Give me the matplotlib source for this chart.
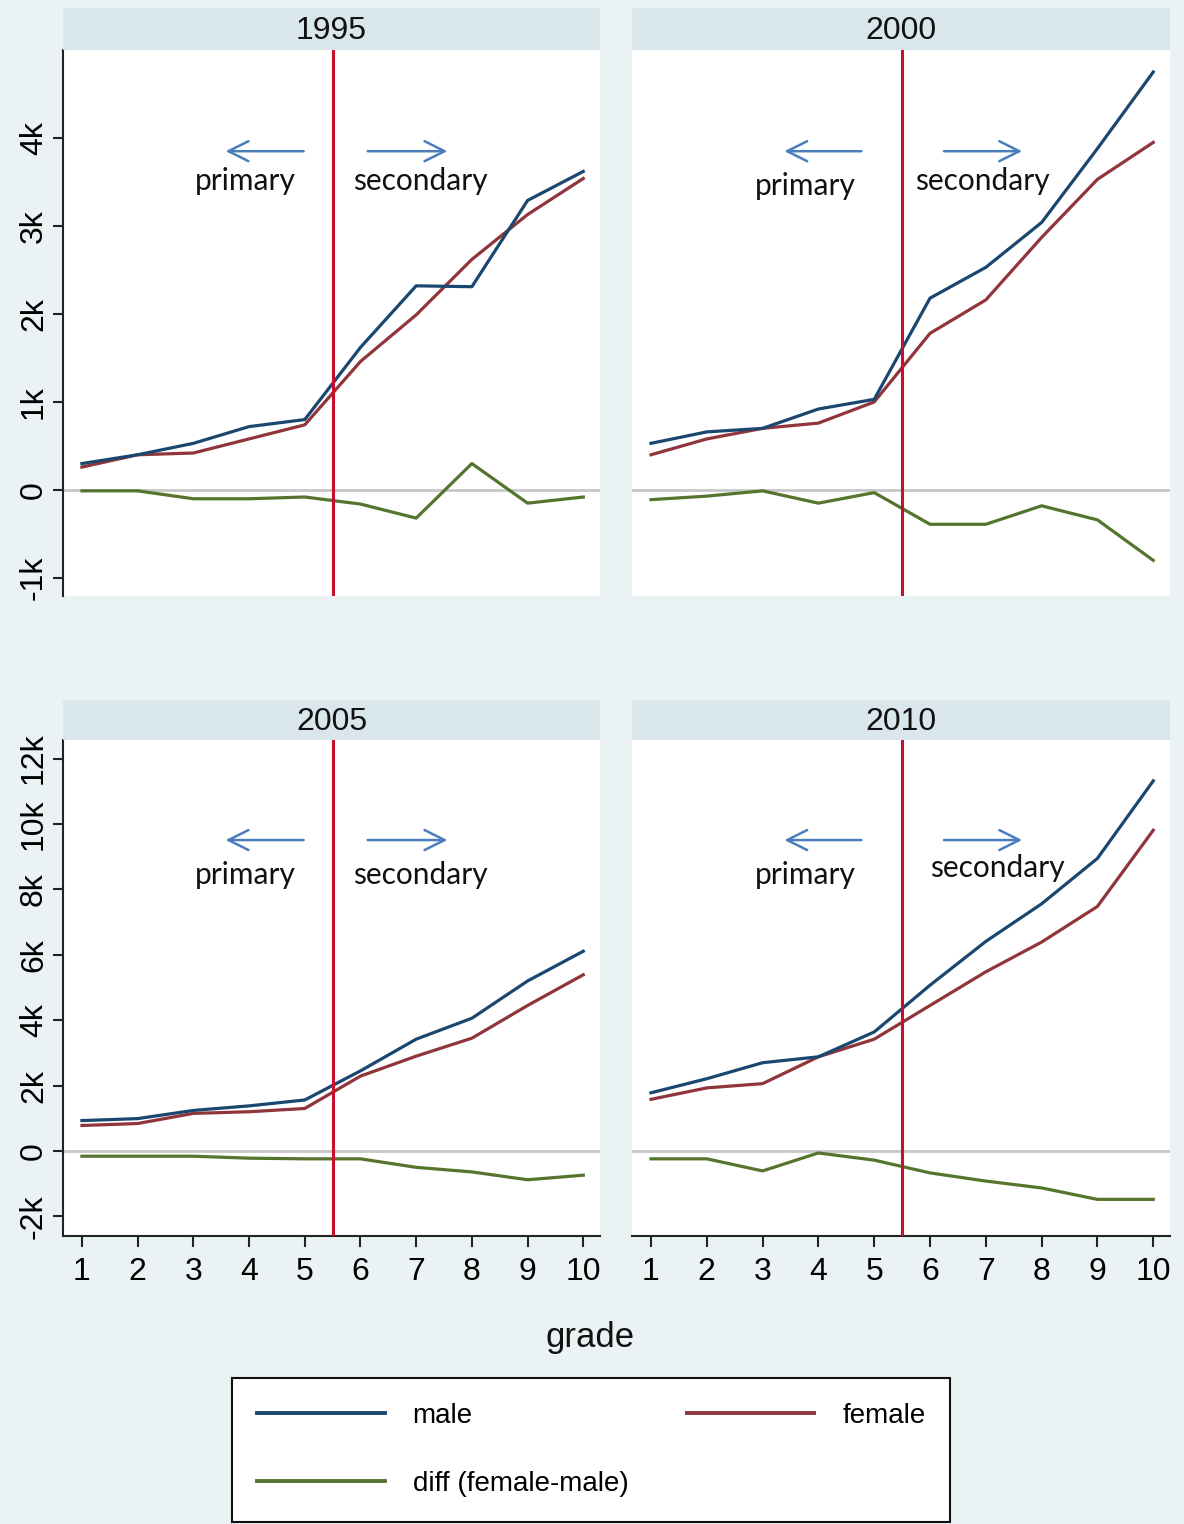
import matplotlib.pyplot as plt
from matplotlib.ticker import FixedLocator, FuncFormatter

# valores (unidades monetarias)
grade = [1, 2, 3, 4, 5, 6, 7, 8, 9, 10]
years = ['1995', '2000', '2005', '2010']

male_1995 = [300, 400, 530, 720, 800, 1620, 2320, 2310, 3290, 3620]
female_1995 = [260, 400, 420, 580, 740, 1460, 1990, 2620, 3130, 3540]
diff_1995 = [-10, -10, -100, -100, -80, -160, -320, 300, -150, -80]

male_2000 = [530, 660, 700, 920, 1030, 2180, 2530, 3040, 3880, 4750]
female_2000 = [400, 580, 700, 760, 1000, 1780, 2160, 2870, 3530, 3950]
diff_2000 = [-110, -70, -10, -150, -30, -390, -390, -180, -340, -800]

male_2005 = [930, 990, 1240, 1380, 1560, 2450, 3420, 4060, 5200, 6110]
female_2005 = [780, 840, 1150, 1200, 1300, 2290, 2900, 3450, 4450, 5390]
diff_2005 = [-160, -160, -160, -220, -240, -240, -500, -640, -880, -740]

male_2010 = [1780, 2210, 2700, 2880, 3640, 5070, 6410, 7560, 8950, 11320]
female_2010 = [1580, 1930, 2060, 2880, 3420, 4450, 5480, 6390, 7480, 9810]
diff_2010 = [-240, -240, -610, -60, -280, -670, -920, -1130, -1480, -1480]

yticks_top = [-1000, 0, 1000, 2000, 3000, 4000]
yticks_bottom = [-2000, 0, 2000, 4000, 6000, 8000, 10000, 12000]

males = [male_1995, male_2000, male_2005, male_2010]
females = [female_1995, female_2000, female_2005, female_2010]
diffs = [diff_1995, diff_2000, diff_2005, diff_2010]

bg = '#eaf2f3'
strip_col = '#d9e6eb'
c_male = '#1a476f'
c_female = '#90353b'
c_diff = '#55752f'
c_cut = '#c8102e'
c_arrow = '#4a7ebb'

plt.rcParams['font.family'] = ['Liberation Sans', 'DejaVu Sans']

fig = plt.figure(figsize=(11.84, 15.24), dpi=100, facecolor=bg)

W, H = 1184, 1524
# (x0, x1, y_top_plot, y_bottom_plot, y_top_strip) en pixeles
boxes = [
    (63, 600, 50, 596, 8),
    (632, 1170, 50, 596, 8),
    (63, 600, 740, 1236, 700),
    (632, 1170, 740, 1236, 700),
]
text_pos = [
    ((3.94, 3510), (7.08, 3510), (4.98, 3.58, 3850), (6.13, 7.56, 3850)),
    ((3.77, 3450), (6.93, 3510), (4.77, 3.39, 3850), (6.25, 7.65, 3850)),
    ((3.94, 8440), (7.08, 8440), (4.98, 3.58, 9510), (6.13, 7.56, 9510)),
    ((3.77, 8440), (7.20, 8650), (4.77, 3.39, 9510), (6.25, 7.65, 9510)),
]

def kfmt(v, pos):
    if v == 0:
        return '0'
    return f'{int(v / 1000)}k'

handles = []
for i, (x0, x1, yt, yb, ys) in enumerate(boxes):
    ax = fig.add_axes([x0 / W, 1 - yb / H, (x1 - x0) / W, (yb - yt) / H])
    ax.set_facecolor('white')
    top = i < 2
    left = i % 2 == 0

    ax.axhline(0, color='#c8c8c8', lw=2, zorder=1)
    ax.axvline(5.5, color=c_cut, lw=2.2, zorder=4)
    hm, = ax.plot(grade, males[i], color=c_male, lw=2.3, zorder=3, label='male')
    hf, = ax.plot(grade, females[i], color=c_female, lw=2.3, zorder=2, label='female')
    hd, = ax.plot(grade, diffs[i], color=c_diff, lw=2.3, zorder=3, label='diff (female-male)')
    if i == 0:
        handles = [hm, hd, hf]

    if top:
        ax.set_ylim(-1205, 5000)
        ax.yaxis.set_major_locator(FixedLocator(yticks_top))
    else:
        ax.set_ylim(-2600, 12570)
        ax.yaxis.set_major_locator(FixedLocator(yticks_bottom))
    ax.set_xlim(0.66, 10.3)
    ax.yaxis.set_major_formatter(FuncFormatter(kfmt))
    ax.set_xticks(grade)

    for s in ['top', 'right']:
        ax.spines[s].set_visible(False)
    ax.spines['left'].set_visible(left)
    ax.spines['bottom'].set_visible(not top)
    ax.spines['left'].set_linewidth(1.5)
    ax.spines['bottom'].set_linewidth(1.5)
    ax.spines['left'].set_color('#222222')
    ax.spines['bottom'].set_color('#222222')

    ax.tick_params(axis='y', left=left, labelleft=left, length=7, width=1.5,
                   color='#222222', labelsize=23, pad=3)
    for lab in ax.get_yticklabels():
        lab.set_rotation(90)
        lab.set_va('center')
    ax.tick_params(axis='x', bottom=not top, labelbottom=not top, length=8, width=1.5,
                   color='#222222', labelsize=23, pad=7)

    (px, py), (sx, sy), (la0, la1, lay), (ra0, ra1, ray) = text_pos[i]
    ax.text(px, py, 'primary', ha='center', va='center', fontsize=21.5,
            family=['Lato', 'DejaVu Sans'], color='#111111', zorder=5)
    ax.text(sx, sy, 'secondary', ha='center', va='center', fontsize=21.5,
            family=['Lato', 'DejaVu Sans'], color='#111111', zorder=5)
    for a0, a1, ay in [(la0, la1, lay), (ra0, ra1, ray)]:
        ax.annotate('', xy=(a1, ay), xytext=(a0, ay),
                    arrowprops=dict(arrowstyle='->', color=c_arrow, lw=1.8,
                                    mutation_scale=36, shrinkA=0, shrinkB=0))

    # franja con el anio
    sax = fig.add_axes([x0 / W, 1 - yt / H, (x1 - x0) / W, (yt - ys) / H])
    sax.set_facecolor(strip_col)
    sax.set_xticks([])
    sax.set_yticks([])
    for s in sax.spines.values():
        s.set_visible(False)
    sax.text(0.5, 0.45, years[i], ha='center', va='center', fontsize=23,
             transform=sax.transAxes, color='#111111')

fig.text(590 / W, 1 - 1338 / H, 'grade', ha='center', va='center', fontsize=25,
         color='#111111')

leg = fig.legend(handles=handles, labels=[h.get_label() for h in handles],
                 ncol=2, loc='upper left', bbox_to_anchor=(232 / W, 1 - 1378 / H),
                 frameon=True, fancybox=False, edgecolor='#111111', facecolor='white',
                 handlelength=4.6, handletextpad=1.0, columnspacing=2.1,
                 labelspacing=1.5, borderpad=0.9, borderaxespad=0,
                 prop={'size': 20})
leg.get_frame().set_linewidth(1.5)
leg.get_frame().set_alpha(1)
for ln in leg.get_lines():
    ln.set_linewidth(2.8)

fig.savefig('out.png', dpi=100, facecolor=bg)
